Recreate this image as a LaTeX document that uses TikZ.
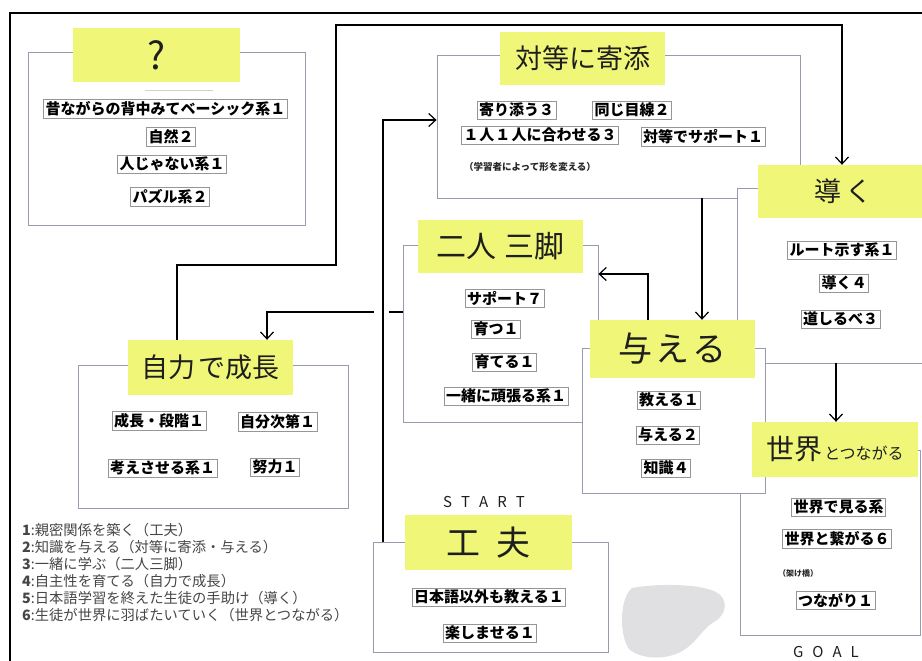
\documentclass[tikz,border=0pt]{standalone}
\usepackage{fontspec}
\newfontfamily\jp{Noto Sans CJK JP}
\usetikzlibrary{arrows.meta}
\definecolor{sticky}{RGB}{240,247,120}
\definecolor{paperline}{RGB}{150,156,172}
\definecolor{itemline}{RGB}{150,150,150}
\definecolor{smudge}{RGB}{224,224,227}
\definecolor{legendcol}{RGB}{70,70,70}
\definecolor{inkcol}{RGB}{30,30,30}
\begin{document}
\begin{tikzpicture}[x=1pt,y=-1pt,
 paper/.style={draw=paperline, line width=0.8pt, fill=white, inner sep=0pt},
 note/.style={fill=sticky, inner sep=0pt, text=inkcol, font=\jp\fontsize{27}{27}\selectfont},
 item/.style={draw=itemline, line width=0.6pt, fill=white, inner sep=2pt, text=black, font=\jp\bfseries\fontsize{15}{15}\selectfont},
 smalltxt/.style={inner sep=0pt, text=black!85, font=\jp\bfseries\fontsize{9.5}{10}\selectfont},
 legendtxt/.style={inner sep=0pt, anchor=west, text=legendcol, font=\jp\fontsize{14.3}{15}\selectfont},
 handcaps/.style={inner sep=0pt, text=inkcol, font=\jp\fontsize{15}{15}\selectfont},
 conn/.style={line width=1.4pt, black},
 arr/.style={conn, -{Straight Barb[length=7pt,width=13pt,line width=1.2pt]}},
]
\useasboundingbox (0,0) rectangle (922,661);
\fill[white] (0,0) rectangle (922,661);
\clip (0,0) rectangle (922,661);

% photo frame
\draw[line width=1.4pt, black] (10,661) -- (10,13) -- (922,13);

% smudge
\fill[smudge] (632,588) .. controls (660,583) and (700,584) .. (716,592)
  .. controls (728,598) and (728,614) .. (714,622)
  .. controls (700,630) and (696,646) .. (676,654)
  .. controls (660,660) and (640,658) .. (630,650)
  .. controls (620,640) and (618,600) .. (632,588) -- cycle;

% papers (stacking order)
\node[paper, minimum width=277, minimum height=173] (qBox) at (166.5,138.5) {};
\node[paper, minimum width=363, minimum height=143] (taiBox) at (618.5,126.5) {};
\node[paper, minimum width=210, minimum height=175] (michiBox) at (842,275.5) {};
\node[paper, minimum width=195, minimum height=177] (ninBox) at (500.5,333.5) {};
\node[paper, minimum width=180, minimum height=185] (sekaiBox) at (830,542.5) {};
\node[paper, minimum width=183, minimum height=145] (ataBox) at (673.5,420.5) {};
\node[paper, minimum width=270, minimum height=143] (jirBox) at (213,436.5) {};
\node[paper, minimum width=235, minimum height=110] (kufuBox) at (490.5,597) {};

\draw[gray!35, line width=0.8pt] (145,90) -- (213,90);

% items: ?
\node[item] (q1) at (165.5,109) {昔ながらの背中みてベーシック系１};
\node[item] (q2) at (171,137) {自然２};
\node[item] (q3) at (172,164) {人じゃない系１};
\node[item] (q4) at (170,197) {パズル系２};
% items: 対等に寄添
\node[item] (t1) at (516.5,110) {寄り添う３};
\node[item] (t2) at (632,110) {同じ目線２};
\node[item] (t3) at (540,135) {１\hspace{1pt}人\hspace{1pt}１\hspace{1pt}人に合わせる３};
\node[item] (t4) at (703,137) {対等でサポート１};
\node[smalltxt] (t5) at (530,167) {（学習者によって形を変える）};
% items: 導く
\node[item] (m1) at (842,250) {ルート示す系１};
\node[item] (m2) at (844,283) {導く４};
\node[item] (m3) at (840.5,319) {道しるべ３};
% items: 二人三脚
\node[item] (n1) at (504.5,298) {サポート７};
\node[item] (n2) at (496,329) {育つ１};
\node[item] (n3) at (504.5,362) {育てる１};
\node[item] (n4) at (506,396) {一緒に頑張る系１};
% items: 与える
\node[item] (a1) at (669,400) {教える１};
\node[item] (a2) at (668,435) {与える２};
\node[item] (a3) at (666,468) {知識４};
% items: 世界とつながる
\node[item] (s1) at (838.5,507) {世界で見る系};
\node[item] (s2) at (837,539) {世界と繋がる６};
\node[smalltxt, anchor=west, font=\jp\bfseries\fontsize{8}{8}\selectfont] (s3) at (778,573) {（架け橋）};
\node[item] (s4) at (835.5,600) {つながり１};
% items: 自力で成長
\node[item] (j1) at (159,421) {成長・段階１};
\node[item] (j2) at (277.5,422) {自分次第１};
\node[item] (j3) at (162.5,468) {考えさせる系１};
\node[item] (j4) at (275,467) {努力１};
% items: 工夫
\node[item] (k1) at (489,597) {日本語以外も教える１};
\node[item] (k2) at (490,633) {楽しませる１};

% sticky notes
\node[note, minimum width=167, minimum height=54, font=\jp\fontsize{38}{38}\selectfont] (qL) at (156.5,55) {?};
\node[note, minimum width=165, minimum height=53] (taiL) at (582.5,58.5) {対等に寄添};
\node[note, minimum width=170, minimum height=53] (michiL) at (843,191.5) {導\hspace{4pt}く};
\node[note, minimum width=165, minimum height=53, font=\jp\fontsize{30}{30}\selectfont] (ninL) at (500.5,246.5) {二人\hspace{8pt}三脚};
\node[note, minimum width=165, minimum height=58, font=\jp\fontsize{34}{34}\selectfont] (ataL) at (672.5,349) {与\hspace{3pt}え\hspace{3pt}る};
\node[note, minimum width=166, minimum height=55] (sekaiL) at (835,449.5) {{\fontsize{28}{28}\selectfont 世界}\hspace{2pt}{\fontsize{16}{16}\selectfont とつながる}};
\node[note, minimum width=165, minimum height=55] (jirL) at (210.5,367.5) {自力\hspace{4pt}で成長};
\node[note, minimum width=167, minimum height=55, font=\jp\fontsize{34}{34}\selectfont] (kufuL) at (488.5,542.5) {工\hspace{16pt}夫};

% START / GOAL
\node[handcaps] (start) at (484,502) {S\hspace{9pt}T\hspace{9pt}A\hspace{9pt}R\hspace{9pt}T};
\node[handcaps] (goal) at (826,652) {G\hspace{9pt}O\hspace{9pt}A\hspace{9pt}L};

% legend
\node[legendtxt] (l1) at (22,530) {{\bfseries 1}:親密関係を築く（工夫）};
\node[legendtxt] (l2) at (22,547.5) {{\bfseries 2}:知識を与える（対等に寄添・与える）};
\node[legendtxt] (l3) at (22,564.5) {{\bfseries 3}:一緒に学ぶ（二人三脚）};
\node[legendtxt] (l4) at (22,581.5) {{\bfseries 4}:自主性を育てる（自力で成長）};
\node[legendtxt] (l5) at (22,598) {{\bfseries 5}:日本語学習を終えた生徒の手助け（導く）};
\node[legendtxt] (l6) at (22,615) {{\bfseries 6}:生徒が世界に羽ばたいていく（世界とつながる）};

% connectors
\coordinate (ca1) at (177,265);
\coordinate (ca2) at (336,265);
\coordinate (ca3) at (336,25);
\coordinate (ca4) at (842,25);
\draw[arr] (jirL.north -| ca1) -- (ca1) -- (ca2) -- (ca3) -- (ca4) -- (michiL.north -| ca4);

\coordinate (cc1) at (267,312);
\draw[arr] (ninBox.west |- cc1) -- (cc1) -- (jirL.north -| cc1);
\fill[white] (374,306) rectangle (389,318);

\coordinate (cb1) at (383,120);
\draw[arr] (kufuBox.north -| cb1) -- (cb1) -- (taiBox.west |- cb1);

\coordinate (cd1) at (648,274);
\draw[arr] (ataL.north -| cd1) -- (cd1) -- (ninBox.east |- cd1);

\coordinate (ce1) at (702,200);
\draw[arr] (taiBox.south -| ce1) -- (ataL.north -| ce1);

\coordinate (cf1) at (836,400);
\draw[arr] (michiBox.south -| cf1) -- (sekaiL.north -| cf1);
\end{tikzpicture}
\end{document}
